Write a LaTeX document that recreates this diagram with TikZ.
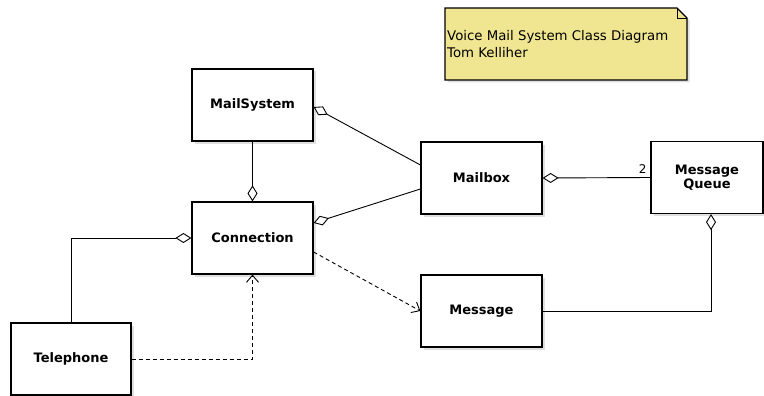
\documentclass[tikz,border=0pt]{standalone}
\usepackage{fontspec}
\setmainfont{DejaVu Sans}
\usetikzlibrary{arrows.meta}
\usetikzlibrary{shadows}
\definecolor{notebg}{RGB}{240,230,145}
\tikzset{
    classbox/.style = {
        draw,
        line width=1.2pt,
        fill=white,
        minimum width=121pt,
        minimum height=72pt,
        align=center,
        font=\bfseries\fontsize{13}{15}\selectfont,
        drop shadow={shadow xshift=2.5pt, shadow yshift=-2.5pt, opacity=0.25},
    },
    aggr/.style = {
        line width=0.9pt,
        {Diamond[open, length=16pt, width=10pt]}-,
    },
    depend/.style = {
        line width=0.9pt,
        dash pattern=on 4pt off 3pt,
        -{Straight Barb[length=7pt, width=12pt]},
    },
    notebox/.style = {
        draw,
        line width=1.2pt,
        fill=notebg,
        drop shadow={shadow xshift=2.5pt, shadow yshift=-2.5pt, opacity=0.25},
    },
    notetext/.style = {
        inner sep=0pt,
        align=left,
        font=\fontsize{13.3}{17}\selectfont,
    }
}

\begin{document}
\begin{tikzpicture}[x=1pt, y=-1pt]
  \useasboundingbox (0,0) rectangle (764,396);

  % Note
  \draw[notebox] (445,8) -- (677,8) -- (687,18) -- (687,80) -- (445,80) -- cycle;
  \draw[line width=0.6pt] (677,8) -- (677,18) -- (687,18);
  \node[notetext, anchor=north west] (note) at (447,30) {Voice Mail System Class Diagram\\Tom Kelliher};

  % Classes
  \node[classbox] (mailsys) at (252.5,105) {MailSystem};
  \node[classbox] (conn) at (252.5,238) {Connection};
  \node[classbox, minimum width=120pt] (tele) at (71,359) {Telephone};
  \node[classbox] (mailbox) at (481.5,178) {Mailbox};
  \node[classbox] (msg) at (481.5,311) {Message};
  \node[classbox, minimum width=112pt] (queue) at (707,177.5) {Message\\[-1pt]Queue};

  % Associations
  \draw[aggr] ([yshift=-2pt]mailsys.east) -- ([yshift=13pt]mailbox.west);
  \draw[aggr] ([yshift=15pt]conn.east) -- ([yshift=-11pt]mailbox.west);
  \draw[aggr] (conn.north) -- (mailsys.south);
  \draw[aggr] (conn.west) -- (tele.north |- conn.west) -- (tele.north);
  \draw[aggr] (mailbox.east) -- node[above left, at end, font=\fontsize{12}{14}\selectfont] {2} (queue.west);
  \draw[aggr] ([xshift=4pt]queue.south) -- ([xshift=4pt]queue.south |- msg.east) -- (msg.east);

  \draw[depend] (tele.east) -- (conn.south |- tele.east) -- (conn.south);
  \draw[depend] ([yshift=-14pt]conn.east) -- (msg.west);

\end{tikzpicture}
\end{document}
